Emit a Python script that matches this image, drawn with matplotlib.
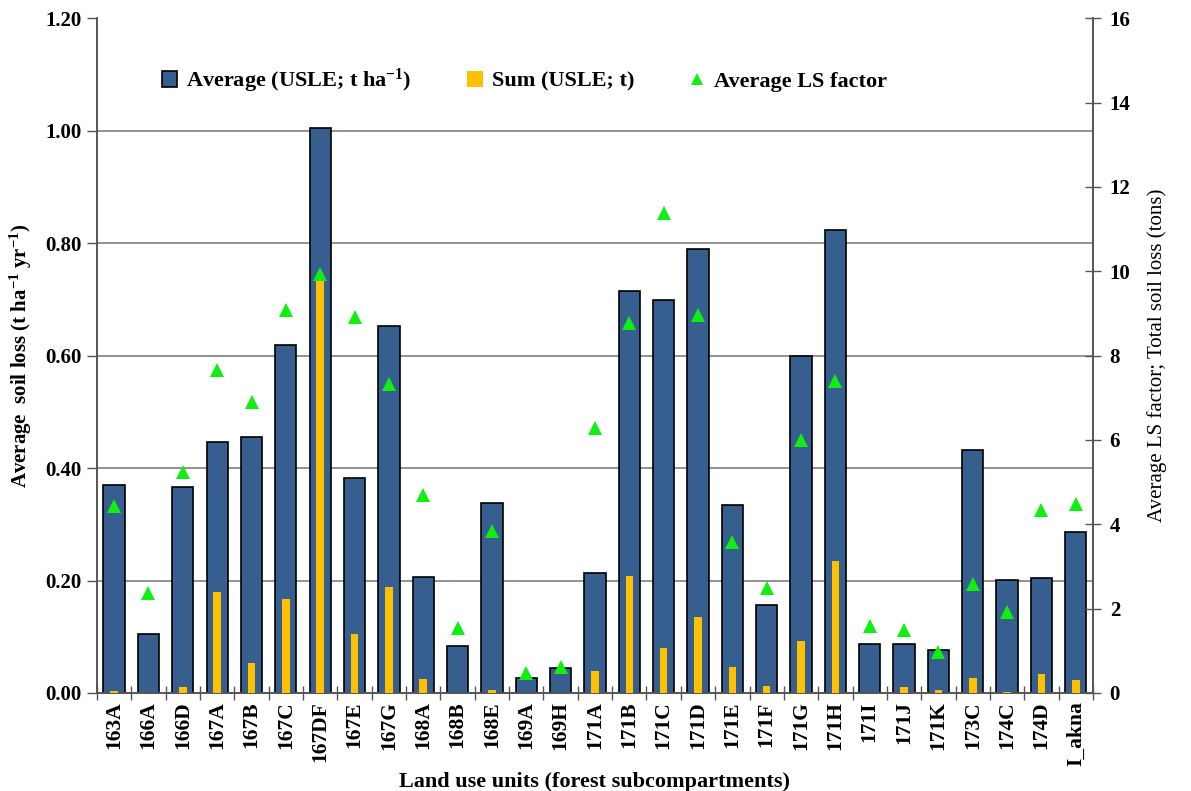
import matplotlib
matplotlib.use("Agg")
import matplotlib.pyplot as plt
import numpy as np
from matplotlib.patches import Patch
from matplotlib.lines import Line2D

units = ["163A", "166A", "166D", "167A", "167B", "167C", "167DF", "167E", "167G",
         "168A", "168B", "168E", "169A", "169H", "171A", "171B", "171C", "171D",
         "171E", "171F", "171G", "171H", "171I", "171J", "171K", "173C", "174C",
         "174D", "I_akna"]

# average USLE soil loss, t ha-1 yr-1 (left axis)
avg_loss = [0.369, 0.105, 0.366, 0.446, 0.456, 0.618, 1.005, 0.383, 0.653,
            0.206, 0.084, 0.337, 0.027, 0.044, 0.213, 0.714, 0.698, 0.790,
            0.335, 0.156, 0.599, 0.824, 0.088, 0.088, 0.076, 0.433, 0.201,
            0.205, 0.286]

# total USLE soil loss, t (right axis)
sum_loss = [0.04, 0.0, 0.14, 2.40, 0.71, 2.22, 9.79, 1.41, 2.52,
            0.33, 0.0, 0.07, 0.0, 0.0, 0.51, 2.78, 1.07, 1.80,
            0.62, 0.16, 1.23, 3.14, 0.0, 0.14, 0.07, 0.36, 0.03,
            0.44, 0.30]

# average LS factor (right axis)
ls_factor = [4.43, 2.36, 5.24, 7.65, 6.89, 9.07, 9.93, 8.92, 7.33,
             4.70, 1.55, 3.84, 0.48, 0.62, 6.29, 8.78, 11.38, 8.96,
             3.59, 2.48, 6.01, 7.39, 1.60, 1.50, 0.98, 2.59, 1.93,
             4.35, 4.47]

left_ticks = [0.0, 0.2, 0.4, 0.6, 0.8, 1.0, 1.2]
right_ticks = [0, 2, 4, 6, 8, 10, 12, 14, 16]

plt.rcParams["font.family"] = ["Liberation Serif", "DejaVu Serif"]
plt.rcParams["mathtext.fontset"] = "custom"
plt.rcParams["mathtext.rm"] = "Liberation Serif:bold"
plt.rcParams["mathtext.it"] = "Liberation Serif:bold"
plt.rcParams["mathtext.bf"] = "Liberation Serif:bold"

BLUE = "#365E8F"
YELLOW = "#FFC000"
GREEN = "#11EE11"

fig = plt.figure(figsize=(11.91, 7.91), dpi=100)
ax = fig.add_axes([0.0814, 0.1239, 0.8363, 0.8531])
ax2 = ax.twinx()

x = np.arange(len(units))
ax.bar(x, avg_loss, width=0.62, color=BLUE, edgecolor="black", linewidth=1.2, zorder=2)
ax2.bar(x, sum_loss, width=0.22, color=YELLOW, linewidth=0, zorder=3)
ax2.plot(x, ls_factor, linestyle="none", marker="^", markersize=10,
         color=GREEN, markeredgewidth=0, zorder=4)

ax.set_xlim(-0.5, len(units) - 0.5)
ax.set_ylim(0, 1.2)
ax2.set_ylim(0, 16)

ax.set_yticks(left_ticks)
ax.set_yticklabels([f"{v:.2f}" for v in left_ticks], fontsize=15, fontweight="bold")
ax2.set_yticks(right_ticks)
ax2.set_yticklabels([str(v) for v in right_ticks], fontsize=15, fontweight="bold")

ax.set_xticks(x)
ax.set_xticklabels(units, rotation=90, fontsize=15.5, fontweight="bold")
ax.tick_params(axis="x", length=0, pad=6)
ax.set_xticks(np.arange(-0.5, len(units), 1.0), minor=True)
ax.tick_params(axis="x", which="minor", direction="inout", length=10, width=1, color="#555555")
ax.tick_params(axis="y", direction="out", length=7, width=1, color="#555555", pad=4)
ax2.tick_params(axis="y", direction="inout", length=12, width=1, color="#555555", pad=6)

ax.yaxis.grid(True, color="#7f7f7f", linewidth=1.2, zorder=0)
ax.set_axisbelow(True)
ax.get_ygridlines()[-1].set_visible(False)
ax.get_ygridlines()[0].set_visible(False)

for a in (ax, ax2):
    a.spines["top"].set_visible(False)
    for s in ("left", "right", "bottom"):
        a.spines[s].set_color("#555555")
        a.spines[s].set_linewidth(1.2)

ax.set_ylabel(r"Average  soil loss (t ha$^{-1}$ yr$^{-1}$)", fontsize=15,
              fontweight="bold", labelpad=8)
ax2.set_ylabel("Average LS factor; Total soil loss (tons)", fontsize=15, labelpad=12)
ax.set_xlabel("Land use units (forest subcompartments)", fontsize=16,
              fontweight="bold", labelpad=4)

handles = [
    Patch(facecolor=BLUE, edgecolor="black", linewidth=1.2),
    Patch(facecolor=YELLOW, edgecolor="none"),
    Line2D([], [], linestyle="none", marker="^", markersize=8, color=GREEN, markeredgewidth=0),
]
labels = [r"Average (USLE; t ha$^{-1}$)", "Sum (USLE; t)", "Average LS factor"]
ax2.legend(handles, labels, loc="upper left", bbox_to_anchor=(0.045, 0.958), ncol=3,
           frameon=False, handlelength=0.7, handleheight=0.7, handletextpad=0.4,
           columnspacing=2.5, prop={"size": 16, "weight": "bold"})

fig.savefig("out.png", dpi=100)
